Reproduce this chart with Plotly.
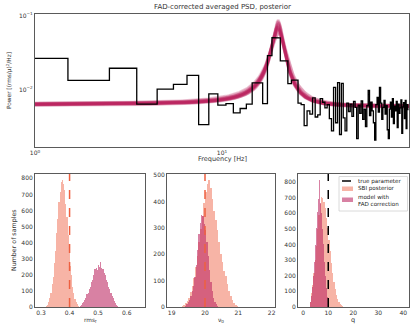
import numpy as np
import plotly.graph_objects as go

# --- averaged PSD (step), frequency bins of 1 Hz ---
psd_freq = list(range(1, 100))
psd_power = [
    0.0264, 0.0134, 0.0195, 0.0064, 0.0102, 0.0118, 0.0156, 0.0034, 0.0088, 0.0062,
    0.0065, 0.0049, 0.0056, 0.0064, 0.0124, 0.0124, 0.0065, 0.0288, 0.0504, 0.0500,
    0.0245, 0.0245, 0.0121, 0.0135, 0.0135, 0.0066, 0.0063, 0.0033, 0.0052, 0.0047,
    0.0078, 0.0043, 0.0046, 0.0076, 0.0068, 0.0057, 0.0063, 0.0041, 0.0028, 0.0108,
    0.0036, 0.0125, 0.0025, 0.0122, 0.0042, 0.0028, 0.0066, 0.0051, 0.0064, 0.0044,
    0.0070, 0.0058, 0.0022, 0.0062, 0.0048, 0.0071, 0.0040, 0.0055, 0.0032, 0.0061,
    0.0098, 0.0045, 0.0068, 0.0052, 0.0036, 0.0021, 0.0063, 0.0079, 0.0050, 0.0108,
    0.0066, 0.0040, 0.0058, 0.0072, 0.0047, 0.0061, 0.0029, 0.0022, 0.0055, 0.0068,
    0.0043, 0.0076, 0.0035, 0.0060, 0.0052, 0.0070, 0.0031, 0.0064, 0.0048, 0.0057,
    0.0073, 0.0026, 0.0059, 0.0067, 0.0041, 0.0072, 0.0030, 0.0063, 0.0054,
]

# --- posterior samples of the model (Lorentzian QPO + white noise) ---
post_amp = [0.060, 0.066, 0.055, 0.072, 0.063, 0.058, 0.078, 0.061, 0.068, 0.052,
            0.064, 0.074, 0.059, 0.070, 0.050, 0.065, 0.076, 0.057, 0.062, 0.080]
post_nu0 = [19.9, 20.0, 19.8, 20.1, 19.95, 20.05, 19.85, 19.9, 20.0, 20.15,
            19.75, 19.95, 20.0, 19.9, 20.1, 19.8, 20.05, 19.95, 19.85, 20.0]
post_q = [6.5, 7.0, 6.0, 7.5, 6.8, 5.5, 8.0, 6.2, 7.2, 5.8,
          6.6, 7.8, 6.4, 7.0, 5.2, 6.9, 7.4, 6.1, 6.7, 8.5]
post_const = [0.0060, 0.0059, 0.0061, 0.0058, 0.0060, 0.0062, 0.0059, 0.0060, 0.0061, 0.0060,
              0.0058, 0.0060, 0.0062, 0.0059, 0.0061, 0.0060, 0.0059, 0.0062, 0.0060, 0.0061]

# --- histograms: rms_f ---
rms_sbi_x = [0.319, 0.323, 0.327, 0.331, 0.335, 0.339, 0.343, 0.347, 0.351, 0.355,
             0.359, 0.363, 0.367, 0.371, 0.375, 0.379, 0.383, 0.387, 0.391, 0.395,
             0.399, 0.403, 0.407, 0.411, 0.415, 0.419, 0.423, 0.427, 0.431]
rms_sbi_n = [4, 14, 30, 58, 84, 140, 185, 272, 350, 462, 548, 655, 712, 780, 790,
             765, 730, 640, 560, 445, 362, 258, 196, 126, 90, 50, 30, 16, 6]
rms_fad_x = [0.437, 0.441, 0.445, 0.449, 0.453, 0.457, 0.461, 0.465, 0.469, 0.473,
             0.477, 0.481, 0.485, 0.489, 0.493, 0.497, 0.501, 0.505, 0.509, 0.513,
             0.517, 0.521, 0.525, 0.529, 0.533, 0.537, 0.541, 0.545, 0.549, 0.553,
             0.557, 0.561, 0.565, 0.569]
rms_fad_n = [5, 12, 22, 30, 46, 55, 78, 88, 112, 126, 158, 170, 198, 236, 244, 230,
             262, 248, 280, 242, 236, 210, 198, 168, 156, 125, 112, 86, 70, 55,
             40, 28, 15, 6]

# --- histograms: nu_0 ---
nu_sbi_x = [19.325, 19.375, 19.425, 19.475, 19.525, 19.575, 19.625, 19.675, 19.725, 19.775,
            19.825, 19.875, 19.925, 19.975, 20.025, 20.075, 20.125, 20.175, 20.225, 20.275,
            20.325, 20.375, 20.425, 20.475, 20.525, 20.575, 20.625, 20.675, 20.725, 20.775,
            20.825, 20.875, 20.925, 20.975]
nu_sbi_n = [5, 8, 14, 22, 35, 55, 80, 110, 150, 195, 245, 295, 345, 395, 435, 465,
            480, 450, 410, 362, 328, 292, 246, 202, 172, 138, 116, 86, 60, 42, 26, 14, 7, 3]
nu_fad_x = [19.42, 19.46, 19.50, 19.54, 19.58, 19.62, 19.66, 19.70, 19.74, 19.78,
            19.82, 19.86, 19.90, 19.94, 19.98, 20.02, 20.06, 20.10, 20.14, 20.18,
            20.22, 20.26, 20.30, 20.34, 20.38]
nu_fad_n = [5, 10, 18, 28, 42, 60, 80, 115, 160, 215, 275, 320, 350, 345, 315,
            290, 245, 195, 140, 95, 60, 35, 20, 10, 4]

# --- histograms: q ---
q_sbi_x = [2.75, 3.25, 3.75, 4.25, 4.75, 5.25, 5.75, 6.25, 6.75, 7.25, 7.75, 8.25,
           8.75, 9.25, 9.75, 10.25, 10.75, 11.25, 11.75, 12.25, 12.75, 13.25, 13.75,
           14.25, 14.75, 15.25, 15.75]
q_sbi_n = [30, 88, 140, 215, 300, 390, 498, 585, 660, 700, 695, 672, 630, 570, 505,
           430, 355, 280, 215, 160, 112, 75, 48, 30, 18, 10, 4]
q_fad_x = [3.0, 3.4, 3.8, 4.2, 4.6, 5.0, 5.4, 5.8, 6.2, 6.6, 7.0, 7.4, 7.8, 8.2,
           8.6, 9.0, 9.4, 9.8, 10.2]
q_fad_n = [30, 70, 125, 195, 290, 395, 505, 610, 690, 810, 665, 600, 500, 400,
           290, 195, 120, 65, 30]

true_rms = 0.4
true_nu0 = 20.0
true_q = 10.0

crimson = "#bc2661"
sbi_col = "rgba(240,118,92,0.55)"
fad_col = "rgba(188,38,97,0.58)"
frame = "#5a5a5a"
font = "DejaVu Sans"

W, H = 415, 332
def dx(a, b):
    return [a / W, b / W]
def dy(top, bot):
    return [1 - bot / H, 1 - top / H]

fig = go.Figure()

# model curves
f_grid = np.logspace(0, 2, 400)
for a, nu, q, c in zip(post_amp, post_nu0, post_q, post_const):
    hw = nu / (2 * q)
    model = a * hw**2 / ((f_grid - nu) ** 2 + hw**2) + c
    fig.add_trace(go.Scatter(x=f_grid, y=model, mode="lines",
                             line=dict(color=crimson, width=2.4), opacity=0.25,
                             showlegend=False, hoverinfo="skip"))

# step PSD (bin edges at f +- 0.5)
step_x, step_y = [], []
for f, p in zip(psd_freq, psd_power):
    step_x += [max(f - 0.5, 1.0), f + 0.5]
    step_y += [p, p]
fig.add_trace(go.Scatter(x=step_x, y=step_y, mode="lines",
                         line=dict(color="black", width=1.3),
                         showlegend=False, hoverinfo="skip"))

hists = [
    ("x2", "y2", rms_sbi_x, rms_sbi_n, 0.004, rms_fad_x, rms_fad_n, 0.004),
    ("x3", "y3", nu_sbi_x, nu_sbi_n, 0.05, nu_fad_x, nu_fad_n, 0.04),
    ("x4", "y4", q_sbi_x, q_sbi_n, 0.5, q_fad_x, q_fad_n, 0.4),
]
for xa, ya, sx, sn, sw, fx, fn, fw in hists:
    fig.add_trace(go.Bar(x=sx, y=sn, width=sw, xaxis=xa, yaxis=ya,
                         marker=dict(color=sbi_col, line=dict(width=0)),
                         showlegend=False))
    fig.add_trace(go.Bar(x=fx, y=fn, width=fw, xaxis=xa, yaxis=ya,
                         marker=dict(color=fad_col, line=dict(width=0)),
                         showlegend=False))

line_col = "#ee6040"
for xr, val, col in [("x2", true_rms, line_col), ("x3", true_nu0, line_col), ("x4", true_q, "black")]:
    fig.add_shape(type="line", xref=xr, x0=val, x1=val,
                  yref=xr.replace("x", "y") + " domain", y0=0, y1=1,
                  line=dict(color=col, width=1.5, dash="dash"))

# hand-drawn legend box in panel 3 (matplotlib-like, compact)
def px(x):
    return x / W
def py(y):
    return 1 - y / H
fig.add_shape(type="rect", xref="paper", yref="paper",
              x0=px(339), x1=px(407.5), y0=py(211), y1=py(176.5),
              line=dict(color="#d0d0d0", width=0.8), fillcolor="rgba(255,255,255,0.85)")
fig.add_shape(type="line", xref="paper", yref="paper",
              x0=px(342), x1=px(353), y0=py(181), y1=py(181),
              line=dict(color="black", width=1.5, dash="dash"))
fig.add_shape(type="rect", xref="paper", yref="paper",
              x0=px(342), x1=px(353), y0=py(191), y1=py(186.5),
              line=dict(width=0), fillcolor=sbi_col)
fig.add_shape(type="rect", xref="paper", yref="paper",
              x0=px(342), x1=px(353), y0=py(202), y1=py(197.5),
              line=dict(width=0), fillcolor=fad_col)

ax_common = dict(showline=True, mirror=True, linecolor=frame, linewidth=1,
                 showgrid=False, zeroline=False, ticks="", automargin=False,
                 tickfont=dict(size=6, color="#333", family=font))

annots = [
    dict(text="FAD-corrected averaged PSD, posterior", x=px(222), y=py(7)),
    dict(text="Frequency [Hz]", x=px(222), y=py(159), font=dict(size=6.5, color="#333")),
    dict(text="Power [(rms/μ)<sup>2</sup>/Hz]", x=px(9), y=py(81), textangle=-90,
         font=dict(size=5.8, color="#333")),
    dict(text="Number of samples", x=px(14), y=py(240), textangle=-90,
         font=dict(size=6.3, color="#333")),
    dict(text="rms<sub>f</sub>", x=px(90), y=py(320), font=dict(size=5.8, color="#333")),
    dict(text="ν<sub>0</sub>", x=px(221), y=py(320), font=dict(size=6, color="#333")),
    dict(text="q", x=px(353), y=py(320), font=dict(size=6.5, color="#333")),
    dict(text="true parameter", x=px(356), y=py(181), xanchor="left", font=dict(size=5.6, color="#222")),
    dict(text="SBI posterior", x=px(356), y=py(188.7), xanchor="left", font=dict(size=5.6, color="#222")),
    dict(text="model with", x=px(356), y=py(196.5), xanchor="left", font=dict(size=5.6, color="#222")),
    dict(text="FAD correction", x=px(356), y=py(203.5), xanchor="left", font=dict(size=5.6, color="#222")),
]
for a in annots:
    a.setdefault("font", dict(size=7, color="#333"))
    a.setdefault("xanchor", "center")
    a.update(xref="paper", yref="paper", showarrow=False, yanchor="middle")

fig.update_layout(
    width=W, height=H,
    margin=dict(l=0, r=0, t=0, b=0),
    plot_bgcolor="white", paper_bgcolor="white",
    barmode="overlay", bargap=0, showlegend=False,
    font=dict(family=font, size=6, color="#333"),
    xaxis=dict(domain=dx(35, 409), type="log", range=[0, 2],
               tickvals=[1, 10], ticktext=["10<sup>0</sup>", "10<sup>1</sup>"], **ax_common),
    yaxis=dict(domain=dy(14, 147), type="log", range=[-2.77, -0.98],
               tickvals=[0.01, 0.1], ticktext=["10<sup>−2</sup>", "10<sup>−1</sup>"], **ax_common),
    xaxis2=dict(domain=dx(35, 145), range=[0.279, 0.664], anchor="y2",
                tickvals=[0.3, 0.4, 0.5, 0.6], **ax_common),
    yaxis2=dict(domain=dy(174, 307), range=[0, 827], anchor="x2", dtick=100, **ax_common),
    xaxis3=dict(domain=dx(167, 275), range=[18.86, 22.1], anchor="y3",
                tickvals=[19, 20, 21, 22], **ax_common),
    yaxis3=dict(domain=dy(174, 307), range=[0, 504], anchor="x3", dtick=100, **ax_common),
    xaxis4=dict(domain=dx(298, 409), range=[-2.1, 42.3], anchor="y4",
                tickvals=[0, 10, 20, 30, 40], **ax_common),
    yaxis4=dict(domain=dy(174, 307), range=[0, 850], anchor="x4", dtick=100, **ax_common),
    annotations=annots,
)

fig.write_html("out.html", config={"displayModeBar": False},
               post_script="document.body.style.margin='0';")
